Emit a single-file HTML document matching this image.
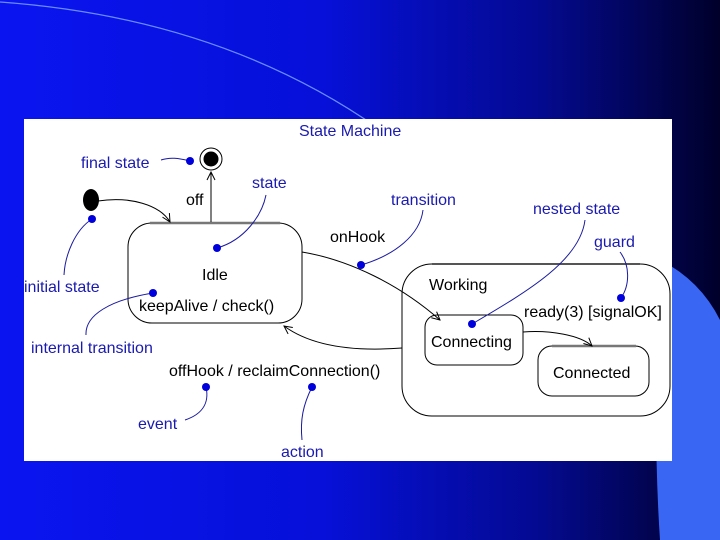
<!DOCTYPE html>
<html><head><meta charset="utf-8"><style>
html,body{margin:0;padding:0;width:720px;height:540px;overflow:hidden}
svg{display:block}
</style></head><body>
<svg width="720" height="540" viewBox="0 0 720 540" xmlns="http://www.w3.org/2000/svg" font-family="Liberation Sans, sans-serif">
<defs>
<linearGradient id="bg" x1="0" y1="0" x2="1" y2="0">
<stop offset="0" stop-color="#0a14f0"/>
<stop offset="0.45" stop-color="#0610d8"/>
<stop offset="0.75" stop-color="#040a90"/>
<stop offset="1" stop-color="#00002a"/>
</linearGradient>
<marker id="ar" markerWidth="10" markerHeight="10" refX="9" refY="5" orient="auto" markerUnits="userSpaceOnUse">
<path d="M1,1 L9,5 L1,9" fill="none" stroke="#000" stroke-width="1"/>
</marker>
</defs>
<rect width="720" height="540" fill="url(#bg)"/>
<path d="M660,260 Q700,280 720,320 L720,540 L660,540 Q652,420 660,260 Z" fill="#3a66f4"/>
<path d="M0,2 Q250,20 420,160" fill="none" stroke="#6a8cff" stroke-width="1.2"/>
<rect x="24" y="119" width="648" height="342" fill="#fff"/>
<g fill="none" stroke="#000" stroke-width="1">
<rect x="128" y="223" width="174" height="100" rx="24"/>
<line x1="150" y1="223" x2="280" y2="223" stroke="#777" stroke-width="2.5"/>
<rect x="402" y="264" width="268" height="152" rx="30"/>
<line x1="432" y1="264" x2="640" y2="264" stroke="#555" stroke-width="2"/>
<rect x="425" y="315" width="98" height="50" rx="12"/>
<rect x="538" y="346" width="111" height="50" rx="14"/>
<line x1="552" y1="346" x2="636" y2="346" stroke="#777" stroke-width="2.5"/>
<circle cx="211" cy="159" r="11"/>
<path d="M211,222 L211,172" marker-end="url(#ar)"/>
<path d="M98,201 C130,196 160,205 170,222" marker-end="url(#ar)"/>
<path d="M302,252 C350,260 400,285 440,320" marker-end="url(#ar)"/>
<path d="M523,332 C550,330 580,335 592,346" marker-end="url(#ar)"/>
<path d="M402,348 C350,352 310,345 284,326" marker-end="url(#ar)"/>
</g>
<circle cx="211" cy="159" r="7.5" fill="#000"/>
<ellipse cx="91" cy="200" rx="8" ry="11" fill="#000"/>
<g fill="none" stroke="#1a1aa0" stroke-width="1">
<path d="M161,160 C170,157 178,158 190,161"/>
<path d="M217,248 C245,240 262,215 266,195"/>
<path d="M361,265 C395,255 420,235 423,210"/>
<path d="M472,324 C530,290 580,260 585,220"/>
<path d="M621,298 C630,285 630,265 620,252"/>
<path d="M92,219 C75,230 65,255 64,275"/>
<path d="M153,293 C110,300 85,315 86,335"/>
<path d="M206,387 C210,405 200,415 185,420"/>
<path d="M312,387 C303,405 300,420 302,440"/>
</g>
<g fill="#0000dd">
<circle cx="190" cy="161" r="4"/>
<circle cx="217" cy="248" r="4"/>
<circle cx="361" cy="265" r="4"/>
<circle cx="472" cy="324" r="4"/>
<circle cx="621" cy="298" r="4"/>
<circle cx="92" cy="219" r="4"/>
<circle cx="153" cy="293" r="4"/>
<circle cx="206" cy="387" r="4"/>
<circle cx="312" cy="387" r="4"/>
</g>
<g font-size="16" fill="#000">
<text x="186" y="205">off</text>
<text x="202" y="280">Idle</text>
<text x="139" y="311">keepAlive / check()</text>
<text x="330" y="242">onHook</text>
<text x="429" y="290">Working</text>
<text x="524" y="317">ready(3) [signalOK]</text>
<text x="431" y="347">Connecting</text>
<text x="553" y="378">Connected</text>
<text x="169" y="376">offHook / reclaimConnection()</text>
</g>
<g font-size="16" fill="#1a1ab0">
<text x="299" y="136">State Machine</text>
<text x="81" y="168">final state</text>
<text x="252" y="188">state</text>
<text x="391" y="205">transition</text>
<text x="533" y="214">nested state</text>
<text x="594" y="247">guard</text>
<text x="24" y="292">initial state</text>
<text x="31" y="353">internal transition</text>
<text x="138" y="429">event</text>
<text x="281" y="457">action</text>
</g>
</svg>
</body></html>
